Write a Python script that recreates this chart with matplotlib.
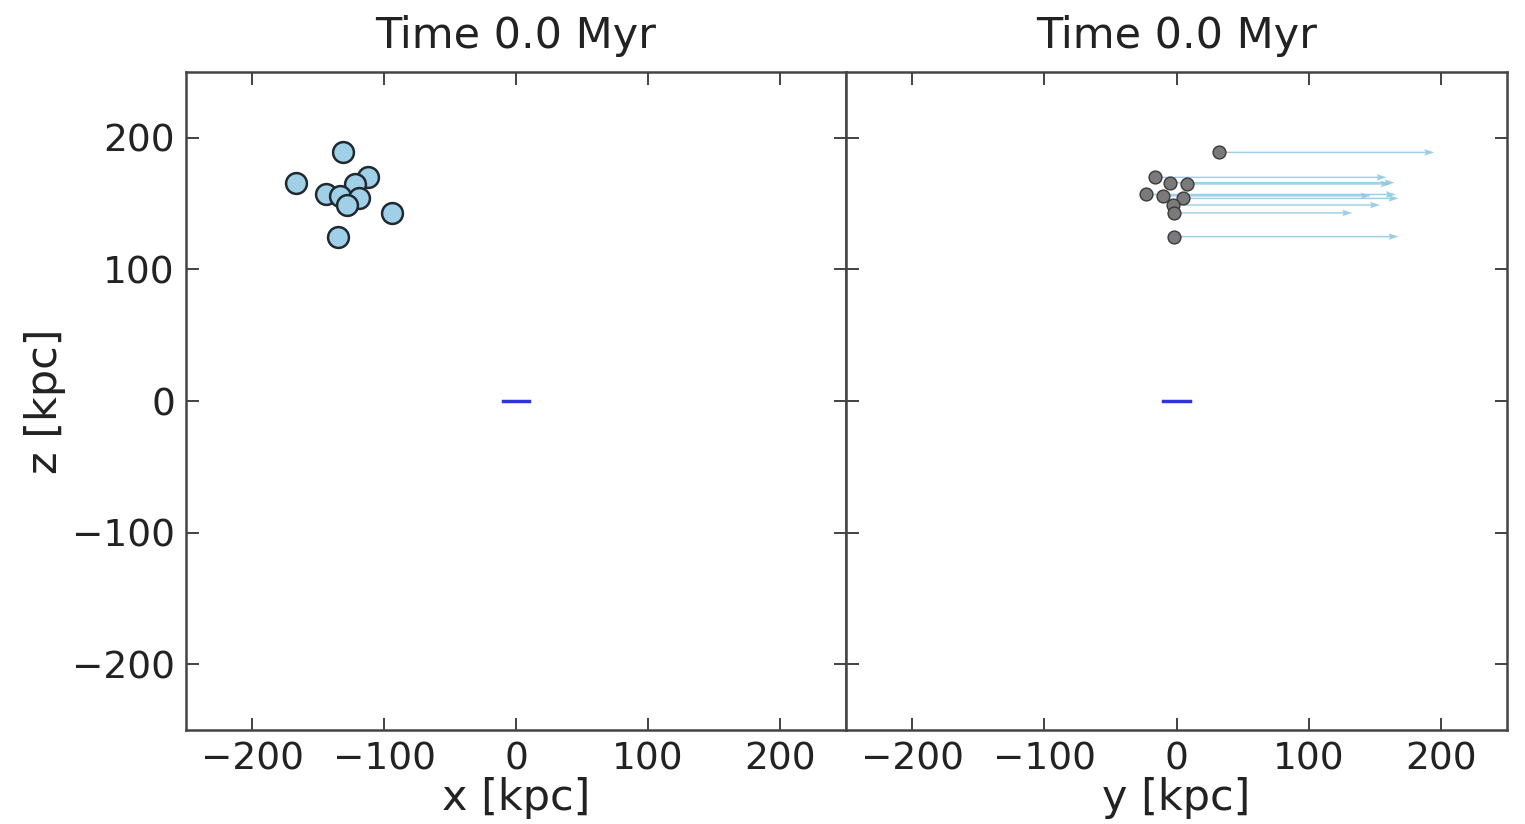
import matplotlib
matplotlib.use("Agg")
import matplotlib.pyplot as plt

# satellite positions [kpc] and y-velocity arrows (drawn length, kpc)
sat_x = [-131, -167, -144, -112, -122, -133, -119, -128, -94, -135]
sat_y = [32, -5, -23, -16, 8, -10, 5, -3, -2, -2]
sat_z = [189, 166, 157, 170, 165, 156, 154, 149, 143, 125]
arrow_vy = [163, 170, 189, 175, 154, 157, 163, 157, 135, 170]

# central disk seen edge-on
disk_x = [-10, 10]
disk_z = [0, 0]

time_myr = 0.0
lim = 250
ticks = [-200, -100, 0, 100, 200]

fig = plt.figure(figsize=(15.25, 8.24), dpi=100)
ax1 = fig.add_axes([0.122, 0.114, 0.4328, 0.7985])
ax2 = fig.add_axes([0.5548, 0.114, 0.4334, 0.7985], sharey=ax1)

ax1.scatter(sat_x, sat_z, s=225, color="#9fd0e8", edgecolors="#1f2a30",
            linewidths=1.8, zorder=3)
ax1.plot(disk_x, disk_z, color="#3333dd", linewidth=2.5)

ax2.quiver(sat_y, sat_z, arrow_vy, [0] * len(arrow_vy), angles="xy",
           scale_units="xy", scale=1, color="#8cc6e4", alpha=0.85,
           width=0.0022, headwidth=4.5, headlength=7, headaxislength=6, zorder=2)
ax2.scatter(sat_y, sat_z, s=85, color="#7a7a7a", edgecolors="#3a3a3a",
            linewidths=1.0, zorder=3)
ax2.plot(disk_x, disk_z, color="#3333dd", linewidth=2.5)

for ax, xlabel in [(ax1, "x [kpc]"), (ax2, "y [kpc]")]:
    ax.set_xlim(-lim, lim)
    ax.set_ylim(-lim, lim)
    ax.set_xticks(ticks)
    ax.set_yticks(ticks)
    ax.set_title(f"Time {time_myr:.1f} Myr", fontsize=31, pad=17, color="#222222")
    ax.set_xlabel(xlabel, fontsize=31, labelpad=0, color="#222222")
    ax.tick_params(direction="in", length=9, width=1.2, top=True, right=True,
                   labelsize=27, colors="#222222", pad=8)
    for sp in ax.spines.values():
        sp.set_color("#444444")
        sp.set_linewidth(1.8)

ax1.set_ylabel("z [kpc]", fontsize=31, labelpad=4, color="#222222")
ax2.tick_params(labelleft=False)

fig.savefig("out.png", dpi=100)
